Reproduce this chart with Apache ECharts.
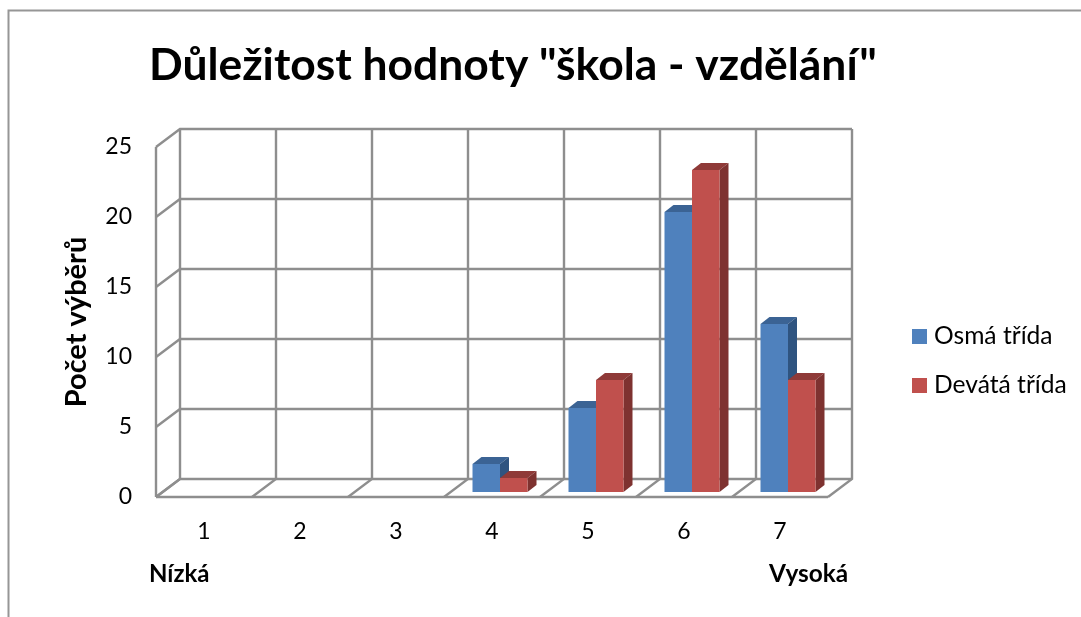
<!DOCTYPE html>
<html><head><meta charset="utf-8">
<style>html,body{margin:0;padding:0;background:#fff}#c{width:1081px;height:617px}</style>
<script src="https://cdn.jsdelivr.net/npm/echarts@6/dist/echarts.min.js"></script>
</head><body><div id="c"></div>
<script>
const categories = ['1','2','3','4','5','6','7'];
const osma = [0,0,0,2,6,20,12];
const devata = [0,0,0,1,8,23,8];
const yTicks = [0,5,10,15,20,25];
const seriesNames = ['Osmá třída','Devátá třída'];

const FONT = 'Lato';
const GRID = '#8E8E8E';
const WALL_DX = 24, WALL_DY = 18;
const BAR_DX = 9, BAR_DY = 7, BAR_SHIFT = 8, BAR_LIFT = 5, BAR_W = 27.5;
const gridLine = {stroke: GRID, lineWidth: 2.4, fill: null};

const chart = echarts.init(document.getElementById('c'), null, {renderer:'canvas'});

function poly(points, style){ return {type:'polygon', shape:{points}, style}; }
function line(points){ return {type:'polyline', shape:{points}, style:gridLine}; }

function hLines(params, api){
  const p = api.coord([0, api.value(0)]);
  const band = api.size([1,0])[0];
  const xl = p[0]-band/2, xr = xl + band*categories.length, y = p[1];
  return line([[xl,y],[xl+WALL_DX,y-WALL_DY],[xr+WALL_DX,y-WALL_DY]]);
}
function vLines(params, api){
  const i = api.value(0);
  const band = api.size([1,0])[0];
  const p0 = api.coord([0,0]), p1 = api.coord([0,25]);
  const x = p0[0]-band/2 + band*i;
  const children = [ line([[x,p0[1]],[x+WALL_DX,p0[1]-WALL_DY],[x+WALL_DX,p1[1]-WALL_DY]]) ];
  if(i===0){ children.push(line([[x,p0[1]],[x,p1[1]]])); children.push(line([[x,p0[1]],[x+band*categories.length,p0[1]]])); }
  return {type:'group', children};
}
function bars(seriesIdx, top, side){
  return function(params, api){
    const i = api.value(0), v = api.value(1);
    if(!v) return null;
    const t = api.coord([i,v]), b = api.coord([i,0]);
    const x0 = t[0] + BAR_SHIFT - BAR_W + seriesIdx*BAR_W, x1 = x0 + BAR_W;
    const yT = t[1] - BAR_LIFT, yB = b[1] - BAR_LIFT;
    return {type:'group', children:[
      poly([[x0,yT],[x0+BAR_DX,yT-BAR_DY],[x1+BAR_DX,yT-BAR_DY],[x1,yT]], {fill:top}),
      poly([[x1,yT],[x1+BAR_DX,yT-BAR_DY],[x1+BAR_DX,yB-BAR_DY],[x1,yB]], {fill:side}),
      {type:'rect', shape:{x:x0,y:yT,width:BAR_W,height:yB-yT}, style:{fill:api.visual('color')}}
    ]};
  };
}

chart.setOption({
  animation:false,
  backgroundColor:'#fff',
  title:{text:'Důležitost hodnoty "škola - vzdělání"', left:144, top:39,
    textStyle:{fontFamily:FONT,fontWeight:'bold',fontSize:44.4,color:'#000'}},
  legend:{orient:'vertical', left:907, top:319, data:seriesNames, icon:'rect',
    itemWidth:15, itemHeight:15, itemGap:24, selectedMode:false,
    textStyle:{fontFamily:FONT,fontSize:24.6,color:'#000',padding:[0,0,0,2]}},
  grid:{left:156, top:147, width:672, height:350, containLabel:false},
  xAxis:{type:'category', data:categories, axisLine:{show:false}, axisTick:{show:false}, splitLine:{show:false},
    axisLabel:{margin:23, fontFamily:FONT, fontSize:23, color:'#000'}},
  yAxis:{type:'value', min:0, max:25, interval:5, axisLine:{show:false}, axisTick:{show:false}, splitLine:{show:false},
    axisLabel:{margin:24, fontFamily:FONT, fontSize:23, color:'#000', padding:[5,0,0,0]},
    name:'Počet výběrů', nameLocation:'middle', nameGap:65, nameRotate:90,
    nameTextStyle:{fontFamily:FONT,fontWeight:'bold',fontSize:29,color:'#000'}},
  graphic:[
    {type:'polyline', shape:{points:[[8.5,617],[8.5,10.5],[1081,10.5]]}, style:{stroke:'#969696',lineWidth:2,fill:null}},
    {type:'text', left:149, top:562, style:{text:'Nízká', font:'bold 24px '+FONT, fill:'#000'}},
    {type:'text', left:769, top:562, style:{text:'Vysoká', font:'bold 24.4px '+FONT, fill:'#000'}}
  ],
  series:[
    {type:'custom', name:'hLines', silent:true, z:1, coordinateSystem:'cartesian2d', clip:false,
      data:yTicks.map(v=>[v]), encode:{y:0}, renderItem:hLines},
    {type:'custom', name:'vLines', silent:true, z:1, coordinateSystem:'cartesian2d', clip:false,
      data:[...categories.map((c,i)=>[i]), [categories.length]], encode:{x:0}, renderItem:vLines},
    {type:'custom', name:seriesNames[0], z:3, coordinateSystem:'cartesian2d', clip:false,
      itemStyle:{color:'#4F81BD'}, data:osma.map((v,i)=>[i,v]), encode:{x:0,y:1},
      renderItem:bars(0,'#3B6394','#2F5480')},
    {type:'custom', name:seriesNames[1], z:4, coordinateSystem:'cartesian2d', clip:false,
      itemStyle:{color:'#C0504D'}, data:devata.map((v,i)=>[i,v]), encode:{x:0,y:1},
      renderItem:bars(1,'#8F3A38','#7E3230')}
  ]
});
</script></body></html>
